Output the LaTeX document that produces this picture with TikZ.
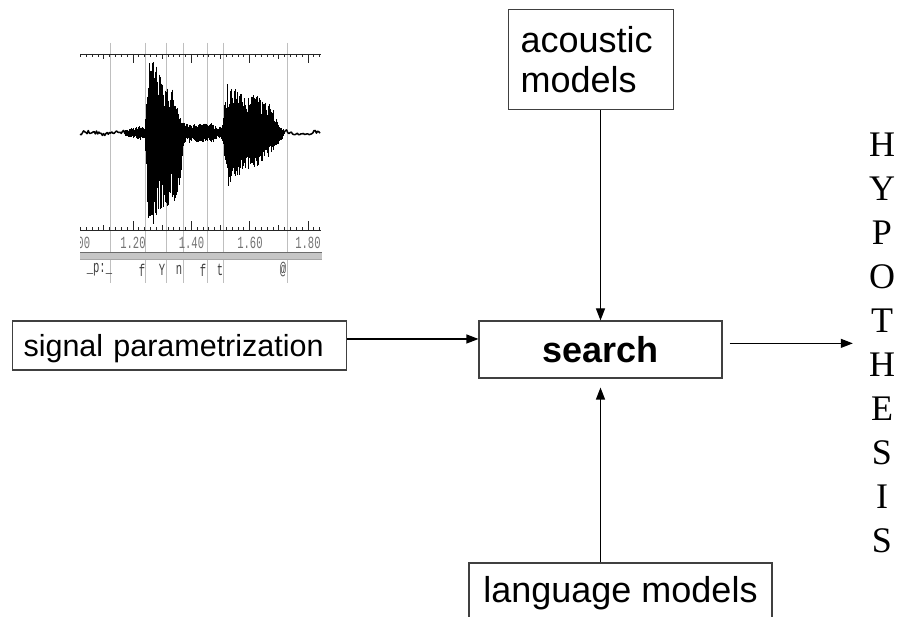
\documentclass[tikz,border=0pt]{standalone}
\usepackage{fontspec}
\usepackage{graphicx}
\usetikzlibrary{arrows.meta,calc}
\newfontfamily\arialf{Liberation Sans}
\newfontfamily\timesf{Liberation Serif}
\newfontfamily\monof{Liberation Mono}
\definecolor{bordc}{HTML}{404040}
\newcommand\wseg[6]{%
  \pgfmathtruncatemacro\wN{(#2-#1)/0.5}%
  \foreach \wi in {0,...,\wN}{%
    \pgfmathsetmacro\wX{#1+0.5*\wi}%
    \pgfmathsetmacro\wF{\wi/max(\wN,1)}%
    \pgfmathsetmacro\wT{(#3+(#4-#3)*\wF)*(0.45+0.55*rnd)}%
    \pgfmathsetmacro\wB{(#5+(#6-#5)*\wF)*(0.45+0.55*rnd)}%
    \draw[wave] (\wX,{133-\wT}) -- (\wX,{133+\wB});
  }}
\tikzset{
  box/.style={draw=bordc, line width=1.1pt, inner sep=0pt, fill=white},
  arr/.style={draw=black, line width=1.1pt, -{Triangle[length=12pt,width=9pt]}},
  gline/.style={draw=gray!50, line width=0.8pt},
  ruler/.style={draw=black!85, line width=0.8pt},
  wave/.style={draw=black, line width=0.6pt},
  wavel/.style={draw=black, line width=1.5pt, line join=round},
  tlab/.style={font=\monof\fontsize{17}{17}\selectfont, text=black!55, inner sep=0pt},
  plab/.style={font=\monof\fontsize{17}{17}\selectfont, text=black!75, inner sep=0pt},
}
\begin{document}
\begin{tikzpicture}[x=1pt,y=-1pt]
\useasboundingbox (0,0) rectangle (898,617);
\clip (0,0) rectangle (898,617);
\fill[white] (0,0) rectangle (898,617);
\pgfmathsetseed{12}
% ---------- waveform panel ----------
\foreach \gx in {110,145,166,183,207,223,287} \draw[gline] (\gx,43) -- (\gx,283);
\draw[ruler] (80,54) -- (321,54);
\draw[ruler] (80,230) -- (321,230);
\foreach \i in {-9,...,32}{%
  \pgfmathsetmacro\tx{133+5.83*\i}%
  \pgfmathtruncatemacro\tm{mod(\i+20,10)}%
  \ifnum\tm=0
    \draw[ruler] (\tx,54) -- (\tx,63);
    \draw[ruler] (\tx,230) -- (\tx,221);
  \else\ifnum\tm=5
    \draw[ruler] (\tx,54) -- (\tx,59);
    \draw[ruler] (\tx,230) -- (\tx,225);
  \else
    \draw[ruler] (\tx,54) -- (\tx,57);
    \draw[ruler] (\tx,230) -- (\tx,227);
  \fi\fi
}
% waveform
\draw[wavel] plot[domain=80:126, samples=40] (\x,{133+1.3*sin(\x*11)+1.8*rand});
\wseg{125}{140}{3}{7}{3}{7}
\wseg{140}{145}{7}{5}{7}{5}
\wseg{145}{148}{10}{70}{10}{90}
\wseg{148}{153}{70}{73}{90}{92}
\wseg{153}{163}{73}{56}{92}{75}
\wseg{163}{173}{56}{43}{75}{72}
\wseg{173}{180}{43}{20}{72}{50}
\wseg{180}{184}{20}{10}{50}{10}
\wseg{184}{200}{10}{9}{10}{9}
\wseg{200}{212}{9}{10}{9}{10}
\wseg{212}{218}{10}{4}{10}{4}
\wseg{218}{222}{5}{8}{5}{8}
\wseg{222}{227}{8}{50}{8}{46}
\wseg{227}{243}{50}{38}{54}{40}
\wseg{243}{257}{38}{38}{40}{33}
\wseg{257}{270}{38}{30}{33}{22}
\wseg{270}{280}{30}{6}{22}{10}
\wseg{280}{284}{6}{3}{10}{3}
\draw[wavel] plot[domain=283:320, samples=32] (\x,{133+1.3*sin(\x*11)+1.8*rand});
% time labels
\begin{scope}
  \clip (80,235) rectangle (330,252);
  \foreach \lx/\lt in {77.5/1.00,133/1.20,191.5/1.40,250/1.60,308/1.80}
    \node[tlab] (t\lt) at (\lx,243) {\scalebox{0.62}[1]{\lt}};
\end{scope}
% thick bar
\fill[gray!45] (80,252) rectangle (322,260);
\draw[draw=gray!85!black, line width=1.6pt] (80,252.5) -- (322,252.5);
\draw[draw=gray!70, line width=1pt] (80,259.5) -- (322,259.5);
% phone labels
\foreach \px/\pt/\pn in {99.5/\_p:\_/p1, 142/f/p2, 162/Y/p3, 179/n/p4, 203/f/p5, 220/t/p6, 283/@/p7}
  \node[plab] (\pn) at (\px,270) {\scalebox{0.62}[1]{\pt}};
% ---------- block diagram ----------
\node[box, anchor=base west, text width=312pt, inner xsep=11pt, align=left,
      text height=36pt, text depth=13pt,
      font=\arialf\fontsize{30.5}{36}\selectfont] (sig) at (12,357) {signal parametrization};
\node[box, anchor=base, minimum width=243pt, text height=42pt, text depth=15pt,
      font=\arialf\bfseries\fontsize{36}{40}\selectfont] (search) at (600.5,363) {search};
\node[box, anchor=north west, minimum height=100pt, text width=141pt, inner xsep=12pt,
      align=left, font=\arialf\fontsize{36}{40}\selectfont] (ac) at (508,9) {acoustic\\models};
\node[box, anchor=base, minimum width=303pt, text height=26pt, text depth=20pt,
      inner ysep=14pt, font=\arialf\fontsize{36}{40}\selectfont] (lm) at (620.5,603) {language models};
\node[anchor=north, inner sep=0pt, align=center,
      font=\timesf\fontsize{36}{44}\selectfont] (hyp) at (882,133.2)
      {H\\Y\\P\\O\\T\\H\\E\\S\\I\\S};
% connectors
\coordinate (a1) at ($(sig.north east)!0.37!(sig.south east)$);
\draw[arr] (a1) -- (a1 -| search.west);
\draw[arr, shorten <=7pt, shorten >=16pt] (search.east |- hyp.west) -- (hyp.west);
\draw[arr] (ac.south -| search.north) -- (search.north);
\draw[arr, shorten >=9pt] (lm.north -| search.south) -- (search.south);
\end{tikzpicture}
\end{document}
